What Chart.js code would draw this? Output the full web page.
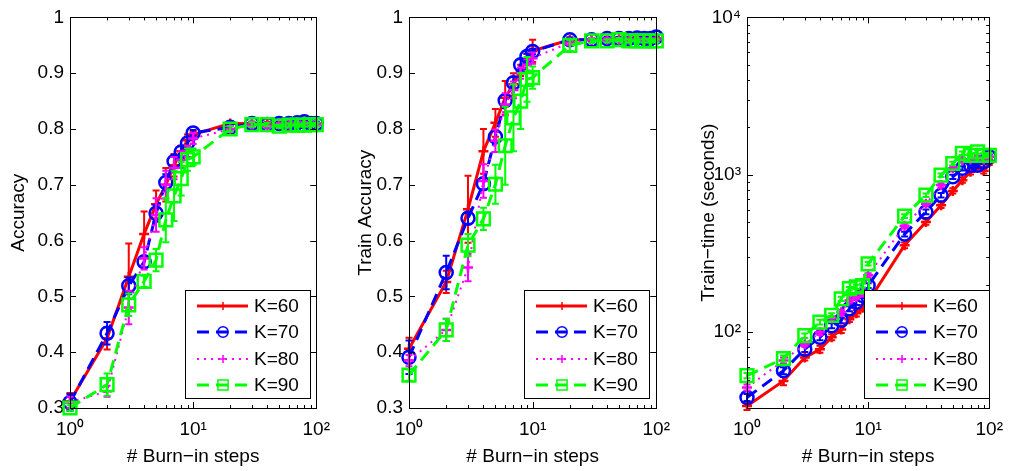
<!DOCTYPE html>
<html>
<head>
<meta charset="utf-8">
<script src="https://cdn.jsdelivr.net/npm/chart.js@4.4.1/dist/chart.umd.min.js"></script>
<style>
  body { margin: 0; background: #fff; width: 1013px; height: 471px; overflow: hidden; position: relative; }
  canvas { position: absolute; top: 0; }
</style>
</head>
<body>
<canvas id="c1" width="340" height="471" style="left:0"></canvas>
<canvas id="c2" width="340" height="471" style="left:340px"></canvas>
<canvas id="c3" width="333" height="471" style="left:680px"></canvas>
<script>
// burn-in steps on the x axis (same for all panels)
var steps = [1, 2, 3, 4, 5, 6, 7, 8, 9, 10, 20, 30, 40, 50, 60, 70, 80, 90, 100];
var seriesNames = ['K=60', 'K=70', 'K=80', 'K=90'];

// panel 1: test accuracy
var accK60 = [0.312, 0.425, 0.535, 0.612, 0.665, 0.700, 0.735, 0.760, 0.780, 0.790, 0.810, 0.810, 0.810, 0.810, 0.810, 0.810, 0.810, 0.810, 0.810];
var accK70 = [0.310, 0.434, 0.519, 0.562, 0.649, 0.704, 0.742, 0.759, 0.775, 0.793, 0.803, 0.810, 0.808, 0.810, 0.810, 0.811, 0.813, 0.810, 0.810];
var accK80 = [0.310, 0.330, 0.480, 0.568, 0.646, 0.700, 0.730, 0.745, 0.760, 0.783, 0.800, 0.808, 0.805, 0.808, 0.808, 0.810, 0.810, 0.808, 0.808];
var accK90 = [0.300, 0.342, 0.485, 0.527, 0.565, 0.637, 0.680, 0.711, 0.745, 0.750, 0.800, 0.808, 0.808, 0.805, 0.807, 0.807, 0.807, 0.808, 0.808];
var accErrK60 = [0.015, 0.020, 0.060, 0.040, 0.025, 0.030, 0.020, 0.010, 0.010, 0.005, 0.004, 0.003, 0.003, 0.003, 0.003, 0.003, 0.003, 0.003, 0.003];
var accErrK70 = [0.015, 0.020, 0.015, 0.010, 0.015, 0.015, 0.010, 0.010, 0.010, 0.005, 0.004, 0.003, 0.003, 0.003, 0.003, 0.003, 0.003, 0.003, 0.003];
var accErrK80 = [0.010, 0.010, 0.030, 0.020, 0.030, 0.025, 0.020, 0.015, 0.010, 0.010, 0.005, 0.004, 0.003, 0.003, 0.003, 0.003, 0.003, 0.003, 0.003];
var accErrK90 = [0.005, 0.020, 0.020, 0.010, 0.020, 0.040, 0.045, 0.030, 0.020, 0.015, 0.005, 0.004, 0.003, 0.003, 0.003, 0.003, 0.003, 0.003, 0.003];

// panel 2: train accuracy
var trainK60 = [0.406, 0.526, 0.656, 0.760, 0.811, 0.856, 0.880, 0.905, 0.925, 0.940, 0.960, 0.960, 0.960, 0.962, 0.962, 0.962, 0.962, 0.962, 0.962];
var trainK70 = [0.391, 0.543, 0.640, 0.702, 0.786, 0.851, 0.883, 0.915, 0.930, 0.939, 0.960, 0.960, 0.962, 0.962, 0.962, 0.963, 0.962, 0.962, 0.965];
var trainK80 = [0.385, 0.440, 0.552, 0.707, 0.779, 0.844, 0.870, 0.900, 0.915, 0.927, 0.955, 0.960, 0.960, 0.960, 0.960, 0.960, 0.960, 0.960, 0.960];
var trainK90 = [0.359, 0.440, 0.592, 0.639, 0.701, 0.770, 0.820, 0.850, 0.889, 0.892, 0.950, 0.958, 0.958, 0.960, 0.958, 0.958, 0.958, 0.958, 0.958];
var trainErrK60 = [0.020, 0.020, 0.060, 0.040, 0.025, 0.030, 0.020, 0.010, 0.010, 0.020, 0.004, 0.003, 0.003, 0.003, 0.003, 0.003, 0.003, 0.003, 0.003];
var trainErrK70 = [0.030, 0.030, 0.010, 0.010, 0.010, 0.010, 0.010, 0.010, 0.005, 0.005, 0.004, 0.003, 0.003, 0.003, 0.003, 0.003, 0.003, 0.003, 0.003];
var trainErrK80 = [0.010, 0.020, 0.025, 0.030, 0.020, 0.020, 0.015, 0.010, 0.010, 0.010, 0.005, 0.003, 0.003, 0.003, 0.003, 0.003, 0.003, 0.003, 0.003];
var trainErrK90 = [0.010, 0.020, 0.020, 0.020, 0.035, 0.070, 0.060, 0.050, 0.040, 0.020, 0.010, 0.004, 0.003, 0.003, 0.003, 0.003, 0.003, 0.003, 0.003];

// panel 3: train time in seconds
var timeK60 = [34, 49, 69, 78, 93, 104, 121, 132, 143, 156, 357, 502, 641, 790, 925, 1045, 1125, 1060, 1200];
var timeK70 = [38.5, 57, 78, 93, 110, 119, 141, 155, 171, 198, 420, 581, 742, 971, 1100, 1150, 1150, 1210, 1300];
var timeK80 = [44.6, 66, 84, 100, 122, 134, 159, 168, 178, 230, 475, 656, 860, 1100, 1240, 1250, 1280, 1250, 1300];
var timeK90 = [53, 68, 95, 116, 128, 163, 189, 194, 198, 272, 547, 742, 995, 1180, 1370, 1330, 1400, 1330, 1330];
var timeErrK60 = [2, 3, 3, 4, 4, 5, 5, 6, 6, 7, 15, 20, 25, 30, 35, 40, 40, 40, 45];
var timeErrK70 = [2, 3, 3, 4, 4, 5, 5, 6, 6, 7, 15, 20, 25, 30, 35, 40, 40, 40, 45];
var timeErrK80 = [2, 3, 3, 4, 4, 5, 5, 6, 6, 7, 15, 20, 25, 30, 35, 40, 40, 40, 45];
var timeErrK90 = [2, 3, 3, 4, 4, 5, 5, 6, 6, 7, 15, 20, 25, 30, 35, 40, 40, 40, 45];

var FONT = '"Liberation Sans", Arial, Helvetica, sans-serif';
var sup = ['\u2070', '\u00b9', '\u00b2', '\u00b3', '\u2074'];

var styles = [
  { color: '#ff0000', dash: [], width: 3, point: 'cross', r: 5 },
  { color: '#0000ff', dash: [12, 7], width: 3, point: 'circle', r: 6.5 },
  { color: '#ff00ff', dash: [2, 5], width: 2, point: 'cross', r: 5 },
  { color: '#00ff00', dash: [12, 7], width: 3, point: 'rect', r: 9 }
];

function isDecade(v) {
  var e = Math.log10(v);
  return Math.abs(e - Math.round(e)) < 1e-9;
}
function isLogTick(v) {
  var m = v / Math.pow(10, Math.floor(Math.log10(v) + 1e-9));
  return Math.abs(m - Math.round(m)) < 1e-6;
}
function powLabel(v) {
  return isDecade(v) ? '10' + sup[Math.round(Math.log10(v))] : '';
}

function drawMarker(ctx, style, x, y, r) {
  ctx.beginPath();
  if (style === 'circle') {
    ctx.arc(x, y, r, 0, Math.PI * 2);
  } else if (style === 'rect') {
    var s = r * Math.SQRT1_2;
    ctx.rect(x - s, y - s, 2 * s, 2 * s);
  } else {
    ctx.moveTo(x - r, y); ctx.lineTo(x + r, y);
    ctx.moveTo(x, y - r); ctx.lineTo(x, y + r);
  }
  ctx.stroke();
}

// error bars drawn right after each dataset
var errorBars = {
  id: 'errorBars',
  afterDatasetDraw: function(chart, args) {
    var ds = chart.data.datasets[args.index];
    if (!ds.errors) return;
    var ys = chart.scales.y, ctx = chart.ctx;
    ctx.save();
    ctx.strokeStyle = ds.borderColor;
    ctx.lineWidth = 2;
    ctx.setLineDash([]);
    args.meta.data.forEach(function(pt, i) {
      var v = ds.data[i].y, e = ds.errors[i];
      var top = ys.getPixelForValue(v + e), bot = ys.getPixelForValue(v - e);
      ctx.beginPath();
      ctx.moveTo(pt.x, top); ctx.lineTo(pt.x, bot);
      ctx.moveTo(pt.x - 3.5, top); ctx.lineTo(pt.x + 3.5, top);
      ctx.moveTo(pt.x - 3.5, bot); ctx.lineTo(pt.x + 3.5, bot);
      ctx.stroke();
    });
    ctx.restore();
  }
};

// matlab style box with inward ticks
var axisBox = {
  id: 'axisBox',
  afterDatasetsDraw: function(chart) {
    var ca = chart.chartArea, ctx = chart.ctx;
    ctx.save();
    ctx.strokeStyle = '#000';
    ctx.lineWidth = 1;
    ctx.setLineDash([]);
    ctx.beginPath();
    var xs = chart.scales.x;
    xs.ticks.forEach(function(t) {
      if (!isLogTick(t.value)) return;
      var px = Math.round(xs.getPixelForValue(t.value)) + 0.5;
      var len = isDecade(t.value) ? 6 : 3;
      ctx.moveTo(px, ca.bottom); ctx.lineTo(px, ca.bottom - len);
      ctx.moveTo(px, ca.top); ctx.lineTo(px, ca.top + len);
    });
    var ys = chart.scales.y;
    var logY = ys.type === 'logarithmic';
    ys.ticks.forEach(function(t) {
      var len = 6;
      if (logY) {
        if (!isLogTick(t.value)) return;
        len = isDecade(t.value) ? 6 : 3;
      }
      var py = Math.round(ys.getPixelForValue(t.value)) + 0.5;
      ctx.moveTo(ca.left, py); ctx.lineTo(ca.left + len, py);
      ctx.moveTo(ca.right, py); ctx.lineTo(ca.right - len, py);
    });
    ctx.stroke();
    ctx.strokeRect(Math.round(ca.left) + 0.5, Math.round(ca.top) + 0.5,
      Math.round(ca.right - ca.left), Math.round(ca.bottom - ca.top));
    ctx.restore();
  }
};

// boxed legend in the lower right corner
var boxLegend = {
  id: 'boxLegend',
  afterDraw: function(chart, args, opts) {
    var ca = chart.chartArea, ctx = chart.ctx;
    var w = 125, h = 108;
    var x0 = Math.round(ca.right - opts.right - w), y0 = Math.round(ca.bottom - opts.bottom - h);
    ctx.save();
    ctx.fillStyle = '#fff';
    ctx.fillRect(x0, y0, w, h);
    ctx.strokeStyle = '#000';
    ctx.lineWidth = 1;
    ctx.strokeRect(x0 + 0.5, y0 + 0.5, w, h);
    chart.data.datasets.forEach(function(ds, i) {
      var y = Math.round(y0 + 16 + i * 26.3);
      ctx.strokeStyle = ds.borderColor;
      ctx.lineWidth = ds.borderWidth;
      ctx.setLineDash(ds.borderDash);
      ctx.beginPath(); ctx.moveTo(x0 + 12, y); ctx.lineTo(x0 + 63, y); ctx.stroke();
      ctx.setLineDash([]);
      ctx.lineWidth = 1.5;
      drawMarker(ctx, ds.pointStyle, x0 + 38, y, ds.pointRadius * 0.8);
      ctx.fillStyle = '#000';
      ctx.font = '19px ' + FONT;
      ctx.textBaseline = 'middle';
      ctx.fillText(ds.label, x0 + 69, y + 1);
    });
    ctx.restore();
  }
};

function makeChart(id, values, errors, yScale, frame) {
  var datasets = values.map(function(vals, k) {
    var s = styles[k];
    return {
      label: seriesNames[k],
      data: steps.map(function(x, i) { return { x: x, y: vals[i] }; }),
      errors: errors[k],
      borderColor: s.color,
      borderWidth: s.width,
      borderDash: s.dash,
      pointStyle: s.point,
      pointRadius: s.r,
      pointBorderWidth: 2.5,
      pointBorderColor: s.color,
      pointBackgroundColor: 'rgba(0,0,0,0)',
      tension: 0,
      clip: false,
      order: 3 - k
    };
  });
  yScale.afterFit = function(sc) { sc.width = frame.left; };
  yScale.grid = { display: false, drawTicks: false };
  yScale.border = { display: false };
  yScale.title.color = '#000';
  yScale.title.font = { family: FONT, size: 19 };
  yScale.title.padding = { top: frame.titlePad, bottom: 0 };
  yScale.ticks.color = '#000';
  yScale.ticks.font = { family: FONT, size: 19 };
  yScale.ticks.padding = 6;
  yScale.ticks.autoSkip = false;

  return new Chart(document.getElementById(id), {
    type: 'line',
    data: { datasets: datasets },
    options: {
      responsive: false,
      animation: false,
      layout: { autoPadding: false, padding: { left: 0, right: frame.right, top: 16, bottom: 0 } },
      scales: {
        x: {
          type: 'logarithmic',
          min: 1, max: 100,
          afterFit: function(sc) { sc.height = 63; },
          grid: { display: false, drawTicks: false },
          border: { display: false },
          ticks: {
            autoSkip: false, maxRotation: 0, padding: 10, color: '#000',
            font: { family: FONT, size: 19 },
            callback: powLabel
          },
          title: {
            display: true, text: '# Burn\u2212in steps', color: '#000',
            font: { family: FONT, size: 19 }, padding: { top: 0, bottom: 3 }
          }
        },
        y: yScale
      },
      plugins: {
        legend: { display: false },
        tooltip: { enabled: false },
        boxLegend: { right: frame.legendRight, bottom: 10 }
      }
    },
    plugins: [errorBars, axisBox, boxLegend]
  });
}

makeChart('c1', [accK60, accK70, accK80, accK90], [accErrK60, accErrK70, accErrK80, accErrK90], {
  type: 'linear', min: 0.3, max: 1,
  ticks: { stepSize: 0.1, callback: function(v) { return String(+v.toFixed(1)); } },
  title: { display: true, text: 'Accuracy' }
}, { left: 70, right: 20, titlePad: 7, legendRight: 6 });

makeChart('c2', [trainK60, trainK70, trainK80, trainK90], [trainErrK60, trainErrK70, trainErrK80, trainErrK90], {
  type: 'linear', min: 0.3, max: 1,
  ticks: { stepSize: 0.1, callback: function(v) { return String(+v.toFixed(1)); } },
  title: { display: true, text: 'Train Accuracy' }
}, { left: 69, right: 21, titlePad: 14, legendRight: 7 });

makeChart('c3', [timeK60, timeK70, timeK80, timeK90], [timeErrK60, timeErrK70, timeErrK80, timeErrK90], {
  type: 'logarithmic', min: 33, max: 10000,
  ticks: { callback: powLabel },
  title: { display: true, text: 'Train\u2212time (seconds)' }
}, { left: 67, right: 16, titlePad: 17, legendRight: 0 });
</script>
</body>
</html>
